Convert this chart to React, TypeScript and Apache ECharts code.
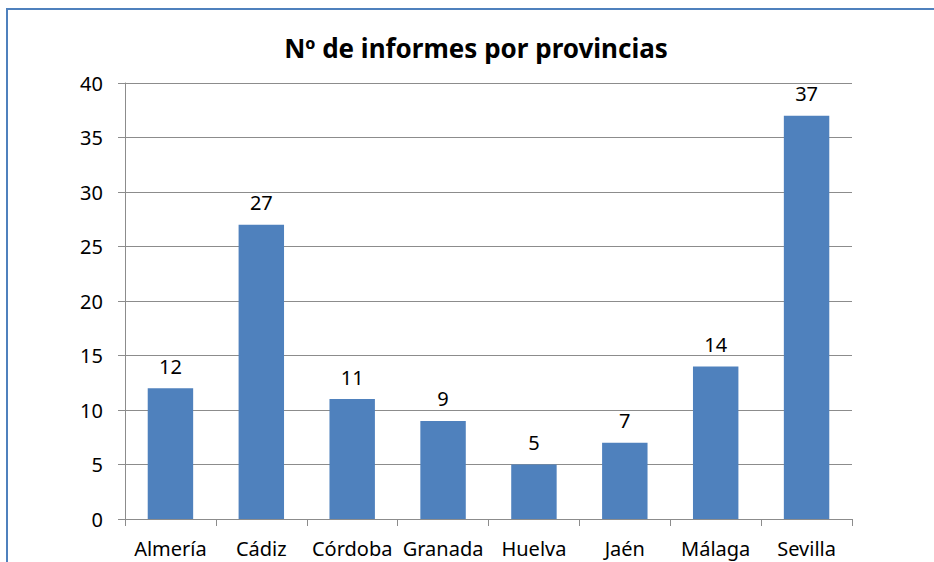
import React, { useEffect, useRef } from "react";
import * as echarts from "echarts";

const categories = ["Almería", "Cádiz", "Córdoba", "Granada", "Huelva", "Jaén", "Málaga", "Sevilla"];
const values = [12, 27, 11, 9, 5, 7, 14, 37];
const titleText = "Nº de informes por provincias";

const FONT = "'Noto Sans', 'Open Sans', sans-serif";

export default function App() {
  const ref = useRef<HTMLDivElement>(null);
  useEffect(() => {
    document.body.style.margin = "0";
    const chart = echarts.init(ref.current!, null, { renderer: "svg" });
    chart.setOption({
      animation: false,
      backgroundColor: "#ffffff",
      title: {
        text: titleText,
        left: 471,
        textAlign: "center",
        top: 30,
        textStyle: { fontFamily: FONT, fontWeight: "bold", fontSize: 26, color: "#000" },
      },
      graphic: [
        { type: "line", shape: { x1: 6, y1: 9, x2: 934, y2: 9 }, style: { stroke: "#4F81BD", lineWidth: 2 } },
        { type: "line", shape: { x1: 7, y1: 8, x2: 7, y2: 562 }, style: { stroke: "#4F81BD", lineWidth: 2 } },
      ],
      grid: { left: 125, right: 82, top: 83, bottom: 43, containLabel: false },
      xAxis: {
        type: "category",
        data: categories,
        axisLine: { lineStyle: { color: "#8c8c8c", width: 1 } },
        axisTick: { show: true, length: 7, lineStyle: { color: "#8c8c8c" }, alignWithLabel: false },
        axisLabel: { color: "#000", fontSize: 20, fontFamily: FONT, margin: 19, interval: 0 },
      },
      yAxis: {
        type: "value",
        min: 0,
        max: 40,
        interval: 5,
        axisLine: { show: true, lineStyle: { color: "#8c8c8c", width: 1 } },
        axisTick: { show: true, length: 7, lineStyle: { color: "#8c8c8c" } },
        axisLabel: { color: "#000", fontSize: 20, fontFamily: FONT, margin: 22 },
        splitLine: { lineStyle: { color: "#8c8c8c", width: 1 } },
      },
      series: [
        {
          type: "bar",
          data: values,
          barWidth: "50%",
          itemStyle: { color: "#4F81BD" },
          label: {
            show: true,
            position: "top",
            distance: 12,
            color: "#000",
            fontSize: 20,
            fontFamily: FONT,
          },
        },
      ],
    });
    return () => chart.dispose();
  }, []);
  return <div ref={ref} style={{ width: 934, height: 562 }} />;
}
